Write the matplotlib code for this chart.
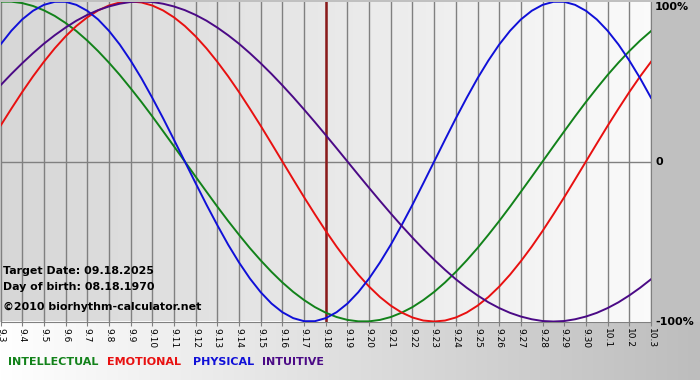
import numpy as np
import matplotlib
matplotlib.use("Agg")
import matplotlib.pyplot as plt
from matplotlib.colors import LinearSegmentedColormap

dates = ["9.3", "9.4", "9.5", "9.6", "9.7", "9.8", "9.9", "9.10", "9.11", "9.12",
         "9.13", "9.14", "9.15", "9.16", "9.17", "9.18", "9.19", "9.20", "9.21", "9.22",
         "9.23", "9.24", "9.25", "9.26", "9.27", "9.28", "9.29", "9.30", "10.1", "10.2", "10.3"]

# values read every half day, from 9.3 to 10.3
intellectual = [0.999, 0.999, 0.990, 0.972, 0.945, 0.910, 0.866, 0.815, 0.756, 0.690,
                0.618, 0.541, 0.458, 0.372, 0.282, 0.189, 0.095, 0.0,
                -0.095, -0.189, -0.282, -0.372, -0.458, -0.541, -0.618, -0.690, -0.756, -0.815,
                -0.866, -0.910, -0.945, -0.972, -0.990, -0.999, -0.999, -0.990, -0.972, -0.945,
                -0.910, -0.866, -0.815, -0.756, -0.690, -0.618, -0.541, -0.458, -0.372, -0.282,
                -0.189, -0.095,
                0.0, 0.095, 0.189, 0.282, 0.372, 0.458, 0.541, 0.618, 0.690, 0.756, 0.815]
emotional = [0.223, 0.330, 0.434, 0.532, 0.623, 0.707, 0.782, 0.847, 0.901, 0.944,
             0.975, 0.994, 1.000, 0.994, 0.975, 0.944, 0.901, 0.847, 0.782, 0.707,
             0.623, 0.532, 0.434, 0.330, 0.223, 0.112, 0.0,
             -0.112, -0.223, -0.330, -0.434, -0.532, -0.623, -0.707, -0.782, -0.847, -0.901,
             -0.944, -0.975, -0.994, -1.000, -0.994, -0.975, -0.944, -0.901, -0.847, -0.782,
             -0.707, -0.623, -0.532, -0.434, -0.330, -0.223, -0.112,
             0.0, 0.112, 0.223, 0.330, 0.434, 0.532, 0.623]
physical = [0.731, 0.817, 0.888, 0.942, 0.979, 0.998, 0.998, 0.979, 0.942, 0.888,
            0.817, 0.731, 0.631, 0.520, 0.398, 0.270, 0.136, 0.0,
            -0.136, -0.270, -0.398, -0.520, -0.631, -0.731, -0.817, -0.888, -0.942, -0.979,
            -0.998, -0.998, -0.979, -0.942, -0.888, -0.817, -0.731, -0.631, -0.520, -0.398,
            -0.270, -0.136,
            0.0, 0.136, 0.270, 0.398, 0.520, 0.631, 0.731, 0.817, 0.888, 0.942,
            0.979, 0.998, 0.998, 0.979, 0.942, 0.888, 0.817, 0.731, 0.631, 0.520, 0.398]
intuitive = [0.476, 0.547, 0.614, 0.677, 0.736, 0.789, 0.837, 0.880, 0.916, 0.946,
             0.969, 0.986, 0.997, 1.000, 0.997, 0.986, 0.969, 0.946, 0.916, 0.880,
             0.837, 0.789, 0.736, 0.677, 0.614, 0.547, 0.476, 0.402, 0.325, 0.246,
             0.165, 0.083, 0.0,
             -0.083, -0.165, -0.246, -0.325, -0.402, -0.476, -0.547, -0.614, -0.677, -0.736,
             -0.789, -0.837, -0.880, -0.916, -0.946, -0.969, -0.986, -0.997, -1.000, -0.997,
             -0.986, -0.969, -0.946, -0.916, -0.880, -0.837, -0.789, -0.736]

target_date = "9.18"
series_names = ["INTELLECTUAL", "EMOTIONAL", "PHYSICAL", "INTUITIVE"]
series_colors = ["#12821a", "#e81010", "#1010d8", "#4b0a86"]

W, H = 700, 380
fig = plt.figure(figsize=(W / 100, H / 100), dpi=100)
fig.patch.set_facecolor("#c0c0c0")

# bottom band gradient (white -> gray)
grad = np.linspace(0, 1, 256).reshape(1, -1)
bg = fig.add_axes([0, 0, 1, 58 / H], zorder=0)
cm_band = LinearSegmentedColormap.from_list("band", ["#ffffff", "#bdbdbd"])
bg.imshow(grad, aspect="auto", cmap=cm_band, extent=[0, 1, 0, 1])
bg.set_axis_off()

# main plot
x0, x1 = 0.5 / W, 651 / W
yb, yt = (H - 321.5) / H, (H - 1.5) / H
ax = fig.add_axes([x0, yb, x1 - x0, yt - yb], zorder=1)
xd = np.arange(len(dates))
xs = np.arange(len(physical)) / 2.0
cm_plot = LinearSegmentedColormap.from_list("plot", ["#d6d6d6", "#fbfbfb"])
ax.imshow(grad, aspect="auto", cmap=cm_plot, extent=[-0.5, len(dates) - 0.5, -1.0, 1.0], zorder=0)
ax.set_xlim(0, len(dates) - 1)
ax.set_ylim(-1.0, 1.0)

for xi in xd:
    ax.axvline(xi, color="#808080", lw=1.0, zorder=1)
ax.axhline(0, color="#808080", lw=1.0, zorder=1)

for vals, c in zip([intellectual, emotional, physical, intuitive], series_colors):
    ax.plot(xs, vals, color=c, lw=1.4, zorder=3, solid_joinstyle="round")

ax.axvline(dates.index(target_date), color="#8b1a1a", lw=1.8, zorder=2)

ax.set_xticks(xd)
ax.set_xticklabels(dates, rotation=270, fontsize=6.5)
ax.set_yticks([])
ax.tick_params(axis="x", length=3, color="#808080", pad=1.5)
for s in ["top", "left"]:
    ax.spines[s].set_visible(False)
ax.spines["bottom"].set_color("#808080")
ax.spines["right"].set_color("#808080")

# right labels
fig.text(655 / W, 1 - 7 / H, "100%", fontsize=8, fontweight="bold", va="center", ha="left")
fig.text(655 / W, 1 - 162 / H, "0", fontsize=8, fontweight="bold", va="center", ha="left")
fig.text(655 / W, 1 - 322 / H, "-100%", fontsize=8, fontweight="bold", va="center", ha="left")

# annotations
fig.text(3 / W, 1 - 271 / H, "Target Date: 09.18.2025", fontsize=7.9, fontweight="bold", va="center", zorder=5)
fig.text(3 / W, 1 - 287 / H, "Day of birth: 08.18.1970", fontsize=7.9, fontweight="bold", va="center", zorder=5)
fig.text(3 / W, 1 - 307 / H, "\u00a92010 biorhythm-calculator.net", fontsize=7.9, fontweight="bold", va="center", zorder=5)

# legend
lx = [8, 107, 193, 262]
for name, c, px in zip(series_names, series_colors, lx):
    fig.text(px / W, 1 - 362 / H, name, color=c, fontsize=8, fontweight="bold", va="center", zorder=5)

fig.savefig("out.png", dpi=100, facecolor=fig.get_facecolor())
